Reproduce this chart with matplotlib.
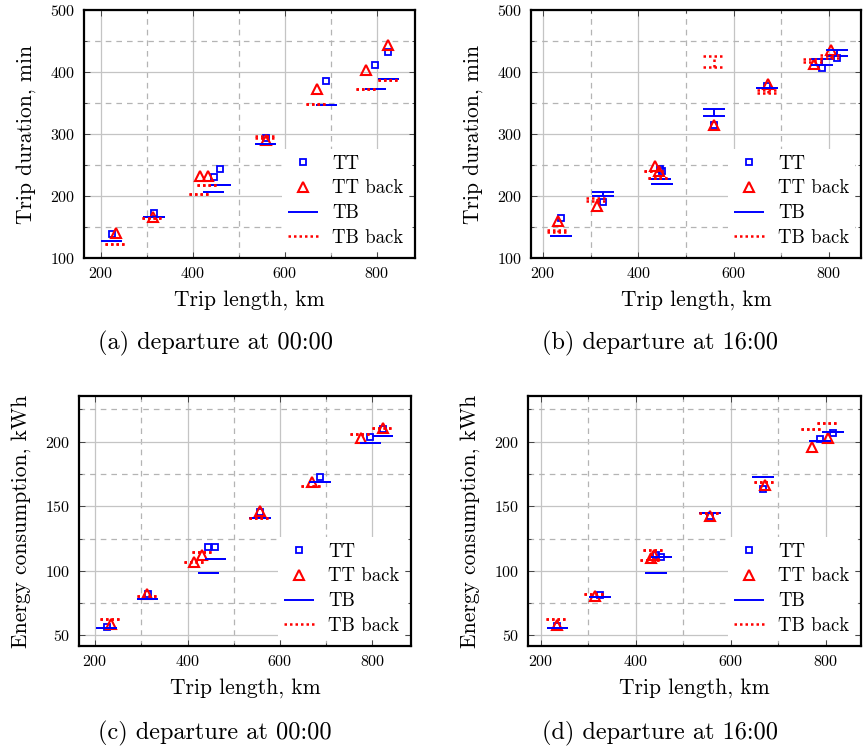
"""
Trip duration and energy consumption vs trip length, four panels.
"""
import matplotlib
matplotlib.use("Agg")
import matplotlib.pyplot as plt
from matplotlib.ticker import MultipleLocator

plt.rcParams["font.family"] = ["cmr10", "DejaVu Serif"]
plt.rcParams["axes.formatter.use_mathtext"] = True
plt.rcParams["mathtext.fontset"] = "cm"

# ---- data (8 routes per panel) ----
# (a) duration, departure 00:00
a_len = [224, 316, 446, 460, 559, 690, 797, 825]
a_len_back = [233, 313, 415, 433, 559, 670, 777, 825]
a_tt = [139, 172, 230, 244, 294, 385, 411, 433]
a_tt_back = [141, 166, 233, 233, 291, 372, 404, 443]
a_tb_lo = [128, 166, 206, 217, 284, 347, 373, 389]
a_tb_hi = [128, 166, 206, 217, 284, 347, 373, 389]
a_tbb_lo = [122, 164, 203, 217, 293, 349, 373, 387]
a_tbb_hi = [122, 164, 203, 217, 297, 349, 373, 387]

# (b) duration, departure 16:00
b_len = [237, 325, 445, 450, 559, 669, 786, 816]
b_len_back = [232, 313, 435, 444, 559, 672, 769, 804]
b_tt = [164, 190, 243, 241, 314, 377, 406, 422]
b_tt_back = [159, 184, 249, 240, 314, 380, 413, 436]
b_tb_lo = [136, 200, 228, 220, 329, 374, 412, 426]
b_tb_hi = [136, 206, 228, 220, 341, 374, 421, 436]
b_tbb_lo = [142, 192, 241, 229, 408, 366, 416, 422]
b_tbb_hi = [145, 197, 241, 229, 426, 371, 421, 427]

# (c) energy, departure 00:00
c_len = [225, 314, 445, 460, 557, 687, 796, 823]
c_len_back = [234, 313, 415, 432, 557, 669, 775, 823]
c_tt = [56.4, 82.2, 118.3, 118.8, 145.9, 172.9, 203.9, 210.0]
c_tt_back = [59.0, 82.0, 107.2, 111.9, 146.0, 169.0, 202.6, 211.0]
c_tb_lo = [55.4, 78.0, 98.7, 109.3, 140.7, 169.0, 199.2, 204.6]
c_tb_hi = [55.4, 78.0, 98.7, 109.3, 140.7, 169.0, 199.2, 204.6]
c_tbb_lo = [62.6, 80.7, 107.2, 114.4, 140.7, 165.7, 205.7, 211.0]
c_tbb_hi = [62.6, 80.7, 107.2, 114.4, 140.7, 165.7, 205.7, 211.0]

# (d) energy, departure 16:00
d_len = [235, 324, 443, 454, 556, 668, 787, 815]
d_len_back = [233, 314, 432, 438, 556, 672, 770, 805]
d_tt = [57.6, 81.3, 112.3, 111.0, 142.5, 163.0, 201.8, 207.0]
d_tt_back = [58.0, 80.5, 110.0, 112.0, 142.5, 166.5, 195.6, 202.6]
d_tb_lo = [56.0, 79.7, 98.6, 111.0, 144.5, 172.4, 200.8, 207.2]
d_tb_hi = [56.0, 79.7, 98.6, 111.0, 144.5, 172.4, 200.8, 207.2]
d_tbb_lo = [63.0, 82.0, 108.4, 116.0, 145.0, 169.0, 209.5, 214.2]
d_tbb_hi = [63.0, 82.0, 108.4, 116.0, 145.0, 169.0, 209.5, 214.2]

captions = ["(a) departure at 00:00", "(b) departure at 16:00",
            "(c) departure at 00:00", "(d) departure at 16:00"]
ylabels = ["Trip duration, min", "Trip duration, min",
           "Energy consumption, kWh", "Energy consumption, kWh"]

CAP = 23  # half width of TB bars, km


def draw_panel(ax, x, xb, tt, ttb, lo, hi, blo, bhi):
    ax.plot(x, tt, "s", mfc="none", mec="blue", ms=4.8, mew=1.3, label="TT")
    ax.plot(xb, ttb, "^", mfc="none", mec="red", ms=7.5, mew=1.5, label="TT back")
    xl = [v - CAP for v in x]
    xr = [v + CAP for v in x]
    ax.hlines(lo, xl, xr, colors="blue", lw=1.4, label="TB")
    ax.hlines(hi, xl, xr, colors="blue", lw=1.4)
    ax.vlines(x, lo, hi, colors="blue", lw=1.4)
    xbl = [v - CAP for v in xb]
    xbr = [v + CAP for v in xb]
    ax.hlines(blo, xbl, xbr, colors="red", lw=1.8, linestyles=(0, (1, 1.2)),
              label="TB back")
    ax.hlines(bhi, xbl, xbr, colors="red", lw=1.8, linestyles=(0, (1, 1.2)))
    ax.vlines(xb, blo, bhi, colors="red", lw=1.8, linestyles=(0, (1, 1.2)))


def style_axes(ax, ylabel, ymajor, yminor):
    ax.xaxis.set_major_locator(MultipleLocator(200))
    ax.xaxis.set_minor_locator(MultipleLocator(100))
    ax.yaxis.set_major_locator(MultipleLocator(ymajor))
    ax.yaxis.set_minor_locator(MultipleLocator(yminor))
    ax.grid(True, which="major", color="#c4c4c4", lw=0.9)
    ax.grid(True, which="minor", color="#b4b4b4", lw=0.9, ls=(0, (4.5, 4)))
    ax.set_axisbelow(True)
    ax.tick_params(which="both", direction="in", top=True, right=True,
                   labelsize=11.5, width=0.7, color="#444444", pad=6)
    ax.tick_params(which="major", length=4)
    ax.tick_params(which="minor", length=2.5)
    for sp in ax.spines.values():
        sp.set_linewidth(1.6)
    ax.set_xlabel("Trip length, km", fontsize=15.5, labelpad=6)
    ax.set_ylabel(ylabel, fontsize=15.5, labelpad=10)
    leg = ax.legend(loc="lower right", fontsize=13.5, numpoints=1,
                    handlelength=1.6, labelspacing=0.36, borderpad=0.3,
                    handletextpad=0.8, fancybox=False, framealpha=1,
                    edgecolor="white", borderaxespad=0.3)
    leg.get_frame().set_linewidth(0)


fig = plt.figure(figsize=(8.65, 7.47), dpi=100)
boxes = [
    [84 / 865, 489 / 747, 331 / 865, 248 / 747],
    [531 / 865, 489 / 747, 330 / 865, 248 / 747],
    [79 / 865, 101 / 747, 332 / 865, 250 / 747],
    [528 / 865, 101 / 747, 333 / 865, 250 / 747],
]
panels = [
    (a_len, a_len_back, a_tt, a_tt_back, a_tb_lo, a_tb_hi, a_tbb_lo, a_tbb_hi),
    (b_len, b_len_back, b_tt, b_tt_back, b_tb_lo, b_tb_hi, b_tbb_lo, b_tbb_hi),
    (c_len, c_len_back, c_tt, c_tt_back, c_tb_lo, c_tb_hi, c_tbb_lo, c_tbb_hi),
    (d_len, d_len_back, d_tt, d_tt_back, d_tb_lo, d_tb_hi, d_tbb_lo, d_tbb_hi),
]
xlims = [(164, 883), (175, 867), (165, 884), (173, 874)]
ylims = [(100, 500), (100, 500), (41.8, 235.4), (41.8, 235.4)]
cap_x = [215 / 865, 660 / 865, 215 / 865, 660 / 865]
cap_y = [1 - 343 / 747, 1 - 343 / 747, 1 - 733 / 747, 1 - 733 / 747]

for i in range(4):
    ax = fig.add_axes(boxes[i])
    draw_panel(ax, *panels[i])
    ax.set_xlim(*xlims[i])
    ax.set_ylim(*ylims[i])
    if i < 2:
        style_axes(ax, ylabels[i], 100, 50)
    else:
        style_axes(ax, ylabels[i], 50, 25)
    fig.text(cap_x[i], cap_y[i], captions[i], ha="center", va="center",
             fontsize=17.5)

fig.savefig("out.png", dpi=100)
